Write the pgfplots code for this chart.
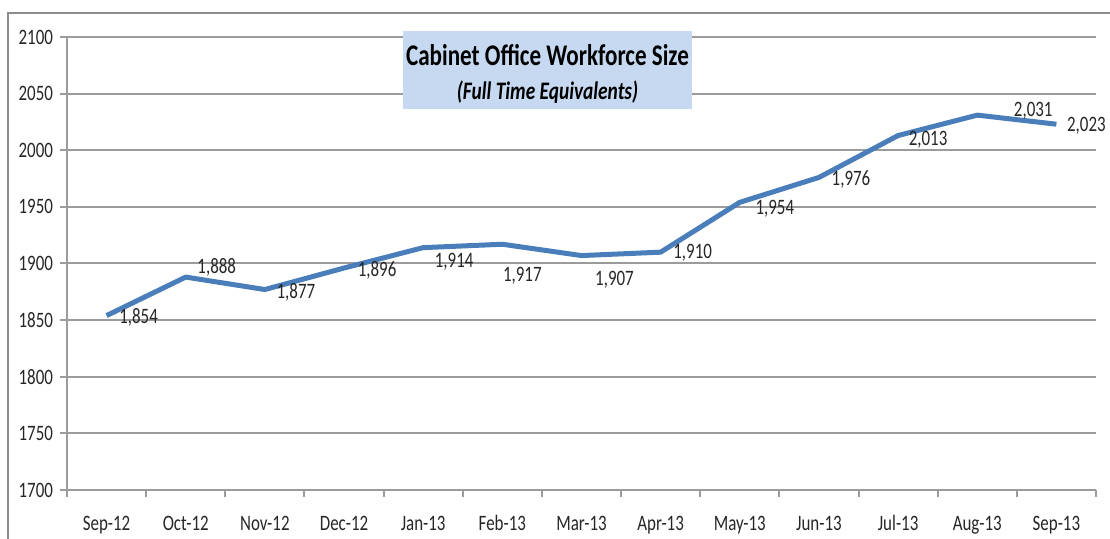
\documentclass[border=0pt]{standalone}
\usepackage{pgfplots}
\pgfplotsset{compat=1.18}
\usepackage{fontspec}
\setmainfont{Carlito}[FakeStretch=0.77]
\definecolor{lineblue}{RGB}{74,126,187}
\definecolor{gridgray}{RGB}{155,155,155}
\definecolor{titlebox}{RGB}{198,217,241}
\definecolor{framegray}{RGB}{140,140,140}
\begin{document}
\begin{tikzpicture}
\begin{axis}[
  scale only axis, width=514.5pt, height=226.5pt,
  xmin=-0.5, xmax=12.5, ymin=1700, ymax=2100,
  ytick={1700,1750,...,2100},
  xtick={-0.5,0.5,...,12.5},
  x tick label as interval,
  xticklabels={Sep-12,Oct-12,Nov-12,Dec-12,Jan-13,Feb-13,Mar-13,Apr-13,May-13,Jun-13,Jul-13,Aug-13,Sep-13},
  axis lines=left, axis line style={-, draw=gridgray, line width=1pt},
  ymajorgrids, grid style={draw=gridgray, line width=1pt},
  tick align=outside, major tick length=3.5pt,
  tick style={draw=gridgray, line width=1pt},
  tick label style={font=\fontsize{11}{13}\selectfont, text=black!85},
  xticklabel style={anchor=base, yshift=-17pt},
  /pgf/number format/assume math mode=true,
  /pgf/number format/1000 sep={},
  clip=false,
]
\addplot[lineblue, line width=2.5pt, line join=round, mark=none,
  nodes near coords={\pgfmathprintnumber[assume math mode=true,1000 sep={,}]{\pgfplotspointmeta}},
  visualization depends on={\thisrow{dx}\as\dx},
  visualization depends on={\thisrow{dy}\as\dy},
  every node near coord/.append style={anchor=center, xshift=\dx pt, yshift=\dy pt,
    font=\fontsize{11}{12}\selectfont, text=black!85, inner sep=0pt},
] table[x=x, y=y] {
x y dx dy
0 1854 16 -1
1 1888 15.5 5
2 1877 15.5 -1.5
3 1896 16.5 -1
4 1914 15.5 -7
5 1917 10 -16
6 1907 16.5 -12
7 1910 16 -0.5
8 1954 17.5 -3
9 1976 16 -1
10 2013 15 -2
11 2031 28 2
12 2023 15 -1
};
\end{axis}
\fill[titlebox] (168pt,190.5pt) rectangle (312.5pt,229.5pt);
\node[font=\bfseries\fontsize{15}{17}\selectfont, inner sep=0pt] at (240.25pt,217.5pt) {Cabinet Office Workforce Size};
\node[font=\bfseries\itshape\fontsize{12.6}{14}\selectfont, inner sep=0pt] at (240.25pt,199pt) {(Full Time Equivalents)};
\draw[framegray, line width=0.75pt] (-29.5pt,-40pt) -- (-29.5pt,238.5pt) -- (540pt,238.5pt);
\pgfresetboundingbox
\path (-33.5pt,-24.5pt) rectangle (521.5pt,245pt);
\end{tikzpicture}
\end{document}
